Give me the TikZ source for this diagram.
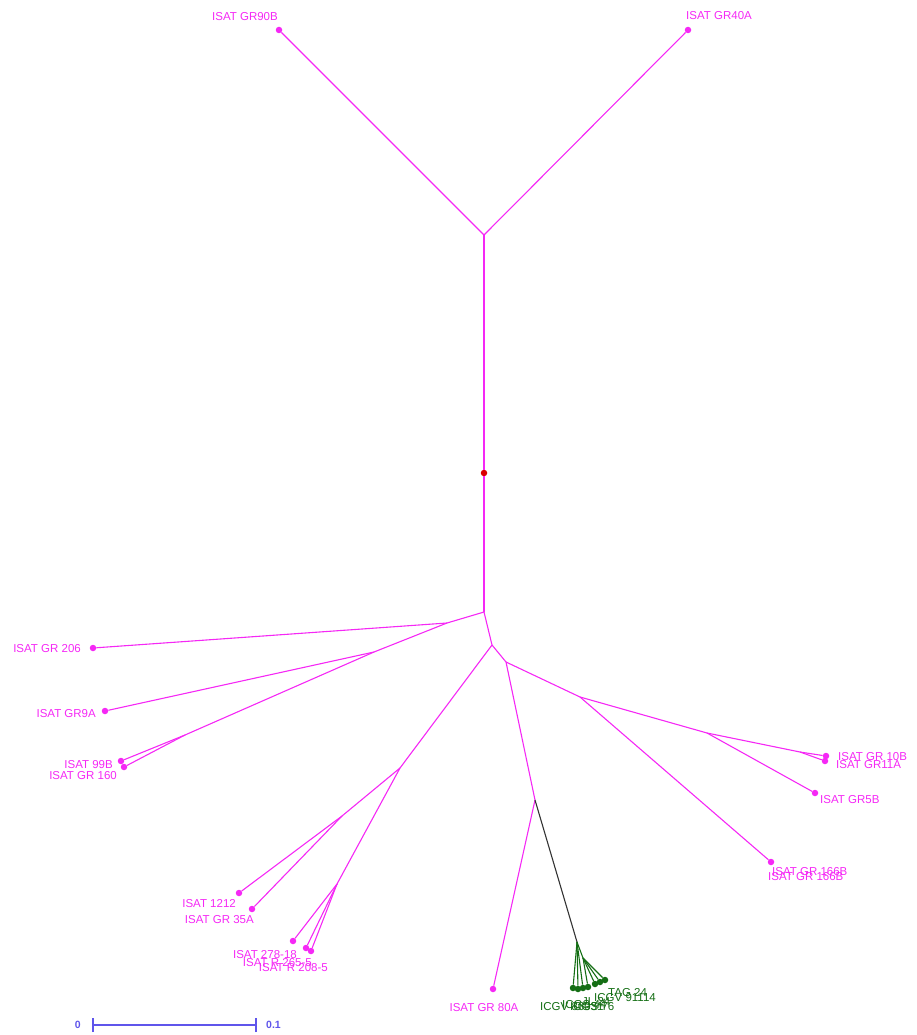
\documentclass[tikz,border=0pt]{standalone}
\usepackage{fontspec}
\setmainfont{Liberation Sans}
\definecolor{mag}{RGB}{245,40,245}
\definecolor{dgreen}{RGB}{20,110,20}
\definecolor{scl}{RGB}{95,85,235}
\tikzset{
  br/.style={draw=mag, line width=1.1pt},
  bk/.style={draw=black!80, line width=1.1pt},
  gb/.style={draw=dgreen, line width=1.1pt},
  leaf/.style={circle, fill=mag, inner sep=0pt, minimum size=6.5pt},
  gleaf/.style={circle, fill=dgreen, inner sep=0pt, minimum size=6.5pt},
  lab/.style={text=mag, font=\fontsize{11.5}{13}\selectfont, inner sep=0pt},
  glab/.style={text=dgreen, font=\fontsize{11.5}{13}\selectfont, inner sep=0pt},
  slab/.style={text=scl, font=\fontsize{10.5}{12}\selectfont\bfseries, inner sep=0pt}
}
\begin{document}
\begin{tikzpicture}[x=1pt,y=-1pt]
\useasboundingbox (0,0) rectangle (917,1035);
% internal junctions
\coordinate (A) at (484,235);
\coordinate (B) at (484,612);
\coordinate (D) at (447,623);
\coordinate (F) at (374,652);
\coordinate (G) at (185,735);
\coordinate (H) at (492,645);
\coordinate (J) at (400,768);
\coordinate (K) at (342,816);
\coordinate (L) at (337,884);
\coordinate (I) at (506,662);
\coordinate (O) at (580,697);
\coordinate (P) at (707,733);
\coordinate (P2) at (800,752);
\coordinate (Q) at (535,800);
\coordinate (R) at (577,942);
\coordinate (S) at (583,958);
% leaves
\node[leaf] (l90b) at (279,30) {};
\node[leaf] (l40a) at (688,30) {};
\node[circle, fill=red!85!black, inner sep=0pt, minimum size=6.5pt] (root) at (484,473) {};
\node[leaf] (l206) at (93,648) {};
\node[leaf] (l9a) at (105,711) {};
\node[leaf] (l99b) at (121,761) {};
\node[leaf] (l160) at (124,767) {};
\node[leaf] (l1212) at (239,893) {};
\node[leaf] (l35a) at (252,909) {};
\node[leaf] (l278) at (293,941) {};
\node[leaf] (l265) at (306,948) {};
\node[leaf] (l208) at (311,951) {};
\node[leaf] (l80a) at (493,989) {};
\node[leaf] (l10b) at (826,756) {};
\node[leaf] (l11a) at (825,761) {};
\node[leaf] (l5b) at (815,793) {};
\node[leaf] (l166b) at (771,862) {};
\node[gleaf] (g1) at (573,988) {};
\node[gleaf] (g2) at (578,989) {};
\node[gleaf] (g3) at (583,988) {};
\node[gleaf] (g4) at (588,987) {};
\node[gleaf] (g5) at (595,984) {};
\node[gleaf] (g6) at (600,982) {};
\node[gleaf] (g7) at (605,980) {};
% branches
\draw[br] (l90b) -- (A) -- (l40a);
\draw[br] (A) -- (root) -- (B);
\draw[br] (B) -- (D) -- (l206);
\draw[br] (D) -- (F) -- (l9a);
\draw[br] (F) -- (G) -- (l99b);
\draw[br] (G) -- (l160);
\draw[br] (B) -- (H) -- (J) -- (K) -- (l1212);
\draw[br] (K) -- (l35a);
\draw[br] (J) -- (L) -- (l278);
\draw[br] (L) -- (l265);
\draw[br] (L) -- (l208);
\draw[br] (H) -- (I) -- (Q) -- (l80a);
\draw[br] (I) -- (O) -- (l166b);
\draw[br] (O) -- (P) -- (P2) -- (l10b);
\draw[br] (P2) -- (l11a);
\draw[br] (P) -- (l5b);
\draw[bk] (Q) -- (R);
\draw[gb] (R) -- (g1);
\draw[gb] (R) -- (g2);
\draw[gb] (R) -- (g3);
\draw[gb] (R) -- (S) -- (g4);
\draw[gb] (S) -- (g5);
\draw[gb] (S) -- (g6);
\draw[gb] (S) -- (g7);
% labels
\node[lab, anchor=east] (t90b) at (278,17) {ISAT GR90B};
\node[lab, anchor=west] (t40a) at (686,16) {ISAT GR40A};
\node[lab, anchor=east] (t206) at (81,649) {ISAT GR 206};
\node[lab, anchor=east] (t9a) at (96,714) {ISAT GR9A};
\node[lab, anchor=east] (t99b) at (113,765) {ISAT 99B};
\node[lab, anchor=east] (t160) at (117,776) {ISAT GR 160};
\node[lab, anchor=east] (t1212) at (236,904) {ISAT 1212};
\node[lab, anchor=east] (t35a) at (254,920) {ISAT GR 35A};
\node[lab, anchor=east] (t278) at (297,955) {ISAT 278-18};
\node[lab, anchor=east] (t265) at (312,963) {ISAT R 265-5};
\node[lab, anchor=east] (t208) at (328,968) {ISAT R 208-5};
\node[lab, anchor=center] (t80a) at (484,1008) {ISAT GR 80A};
\node[lab, anchor=west] (t10b) at (838,757) {ISAT GR 10B};
\node[lab, anchor=west] (t11a) at (836,765) {ISAT GR11A};
\node[lab, anchor=west] (t5b) at (820,800) {ISAT GR5B};
\node[lab, anchor=west] (t166a) at (772,872) {ISAT GR 166B};
\node[lab, anchor=west] (t166b) at (768,877) {ISAT GR 166B};
\node[glab, anchor=west] (tg1) at (540,1007) {ICGV 86031};
\node[glab, anchor=west] (tg2) at (562,1005) {ICGS 44};
\node[glab, anchor=west] (tg3) at (570,1007) {ICGS 76};
\node[glab, anchor=west] (tg4) at (582,1002) {JL 24};
\node[glab, anchor=west] (tg5) at (594,998) {ICGV 91114};
\node[glab, anchor=west] (tg6) at (608,993) {TAG 24};
% scale bar
\coordinate (s0) at (93,1025);
\coordinate (s1) at (256,1025);
\draw[draw=scl, line width=1.1pt] (s0) -- (s1);
\draw[draw=scl, line width=1.1pt] ([yshift=-7pt]s0) -- ([yshift=7pt]s0);
\draw[draw=scl, line width=1.1pt] ([yshift=-7pt]s1) -- ([yshift=7pt]s1);
\node[slab, anchor=east] (z0) at (81,1025) {0};
\node[slab, anchor=west] (z1) at (266,1025) {0.1};
\end{tikzpicture}
\end{document}
